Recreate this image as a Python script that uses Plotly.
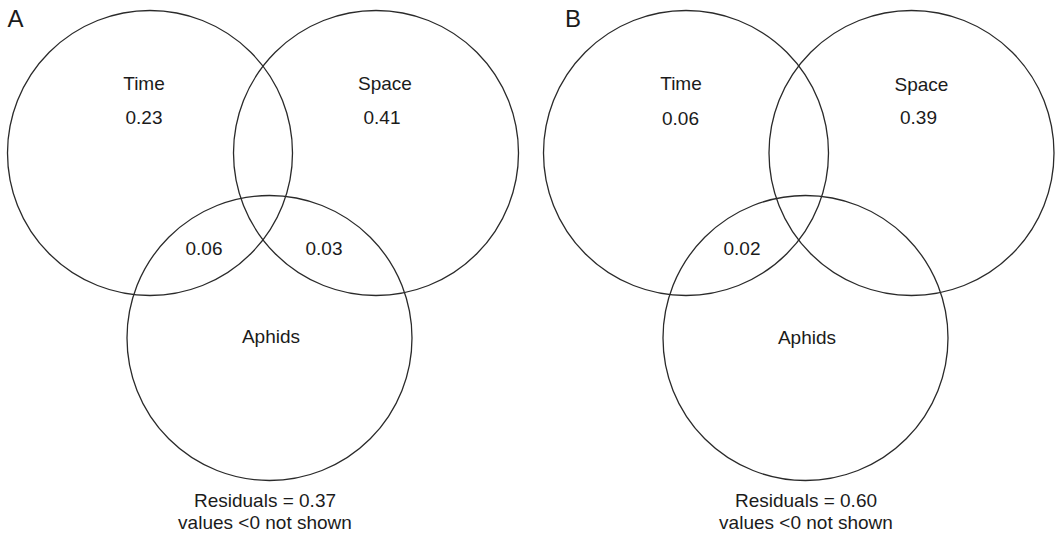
import plotly.graph_objects as go

# ---------------- data ----------------
panels = ["A", "B"]
set_names = ["Time", "Space", "Aphids"]
# unique fractions per set (None = value < 0, not shown)
unique_A = [0.23, 0.41, None]
unique_B = [0.06, 0.39, None]
# pairwise overlaps: Time∩Aphids, Space∩Aphids
overlap_names = ["Time∩Aphids", "Space∩Aphids"]
overlap_A = [0.06, 0.03]
overlap_B = [0.02, None]
residuals = [0.37, 0.60]
note = "values <0 not shown"

# ---------------- layout geometry (pixel-space axes) ----------------
W, H = 1055, 535
R = 142.5
centers = {
    "A": [(150, 153), (376, 153), (269.5, 338)],
    "B": [(686, 153), (911.5, 153), (805.5, 338)],
}
panel_label_pos = {"A": (15.5, 21), "B": (573, 21)}
name_pos = {
    "A": [(144, 85), (385, 85), (271, 338)],
    "B": [(681, 85.5), (921.5, 86), (807, 339)],
}
value_pos = {
    "A": [(144, 119.5), (382, 119), None],
    "B": [(680.5, 120), (918.5, 119.5), None],
}
overlap_pos = {
    "A": [(204, 250), (324, 250)],
    "B": [(742, 250), (862, 250)],
}
resid_pos = {"A": (265, 502), "B": (806, 502)}
line_gap = 22

FONT = "Liberation Sans, Arial, Helvetica, sans-serif"
TXT = "#1b1b1b"
LINE = "#2a2a2a"

fig = go.Figure()
shapes = []

uniques = {"A": unique_A, "B": unique_B}
overlaps = {"A": overlap_A, "B": overlap_B}

for pi, p in enumerate(panels):
    for (cx, cy) in centers[p]:
        shapes.append(dict(type="circle", xref="x", yref="y",
                           x0=cx - R, x1=cx + R, y0=cy - R, y1=cy + R,
                           line=dict(color=LINE, width=1.3)))
    xs, ys, ts = [], [], []
    for i, nm in enumerate(set_names):
        xs.append(name_pos[p][i][0]); ys.append(name_pos[p][i][1]); ts.append(nm)
        v = uniques[p][i]
        if v is not None and value_pos[p][i] is not None:
            xs.append(value_pos[p][i][0]); ys.append(value_pos[p][i][1]); ts.append(f"{v:.2f}")
    for j, v in enumerate(overlaps[p]):
        if v is not None:
            xs.append(overlap_pos[p][j][0]); ys.append(overlap_pos[p][j][1]); ts.append(f"{v:.2f}")
    rx, ry = resid_pos[p]
    xs += [rx, rx]; ys += [ry, ry + line_gap]
    ts += [f"Residuals = {residuals[pi]:.2f}", note]
    fig.add_trace(go.Scatter(x=xs, y=ys, text=ts, mode="text",
                             textposition="middle center",
                             textfont=dict(family=FONT, size=19, color=TXT),
                             hoverinfo="skip", showlegend=False))
    lx, ly = panel_label_pos[p]
    fig.add_trace(go.Scatter(x=[lx], y=[ly], text=[p], mode="text",
                             textposition="middle center",
                             textfont=dict(family=FONT, size=24, color=TXT),
                             hoverinfo="skip", showlegend=False))

fig.update_layout(
    width=W, height=H,
    margin=dict(l=0, r=0, t=0, b=0),
    paper_bgcolor="white", plot_bgcolor="white",
    shapes=shapes,
    xaxis=dict(range=[0, W], visible=False, fixedrange=True),
    yaxis=dict(range=[H, 0], visible=False, fixedrange=True),
)

fig.write_html("out.html", config={"displayModeBar": False})
